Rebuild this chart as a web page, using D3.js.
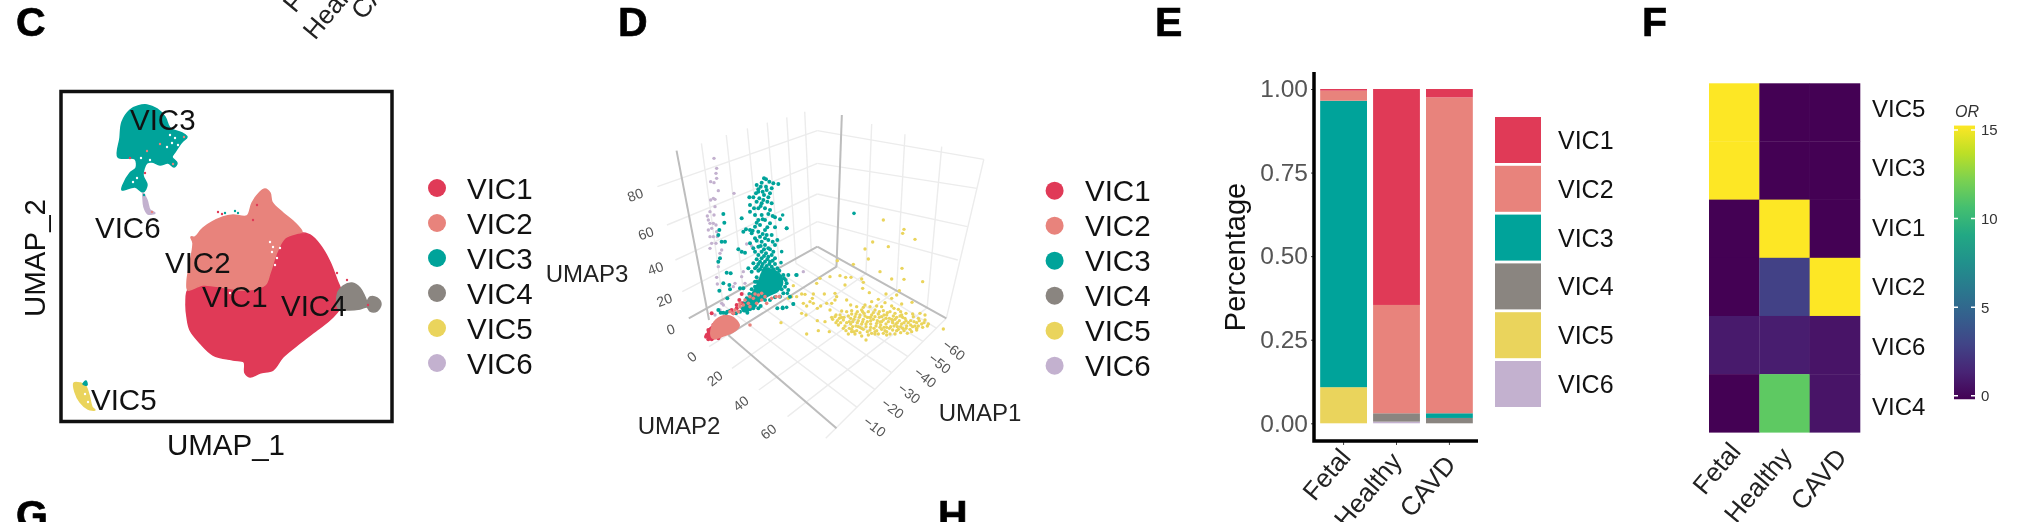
<!DOCTYPE html>
<html><head><meta charset="utf-8">
<script src="https://cdn.jsdelivr.net/npm/d3@7/dist/d3.min.js"></script>
<style>html,body{margin:0;padding:0;background:#fff;overflow:hidden}svg{display:block;filter:blur(0.7px)}text{font-family:"Liberation Sans",Arial,sans-serif}</style>
</head><body><svg id="c" width="2018" height="522"></svg>
<script>
const clusters=["VIC1","VIC2","VIC3","VIC4","VIC5","VIC6"];
const clusterColors=["#E03A57","#E8837C","#00A39A","#8A8580","#EAD45C","#C3B1CF"];
const conditions=["Fetal","Healthy","CAVD"];
// Panel C: cluster outlines (units from the frame's lower left corner)
const outlineVIC1=[[128,133],[143,138],[167,135],[187,133],[205,138],[210,150],[217,171],[225,185],[238,190],[250,188],[260,178],[270,161],[277,143],[282,130],[283,120],[273,106],[257,93],[240,80],[223,66],[213,53],[200,50],[190,46],[185,50],[184,61],[173,63],[153,68],[140,80],[130,93],[127,106],[126,120]];
const outlineVIC2=[[128,133],[127,141],[129,155],[133,180],[131,186],[135,186],[143,195],[163,206],[173,208],[187,207],[192,220],[200,231],[205,234],[210,230],[212,221],[223,210],[235,200],[242,191],[238,190],[225,185],[217,171],[210,150],[205,138],[187,133],[167,135],[143,138]];
const outlineVIC3=[[70,313],[78,317],[87,318],[97,314],[105,306],[110,295],[122,290],[127,286],[122,281],[115,271],[112,266],[117,260],[114,256],[108,260],[100,258],[92,261],[87,260],[83,248],[87,238],[83,231],[75,236],[62,233],[63,238],[70,250],[76,255],[75,264],[58,266],[60,285],[62,301]];
const outlineVIC4=[[278,131],[283,137],[292,140],[300,135],[305,126],[307,122],[310,126],[317,125],[321,119],[317,112],[310,112],[307,116],[300,114],[287,113],[278,115]];
const outlineVIC5=[[14,40],[20,40],[25,38],[29,28],[32,16],[35,13],[28,14],[20,21],[15,31]];
const outlineVIC6=[[83,230],[87,223],[90,213],[95,210],[88,209],[84,216],[83,225]];
const outlineVIC5Tip=[[23,39],[26,42],[27,38]];
const gapsC=[[170,130],[213,176],[217,165],[212,171],[220,175],[215,158],[210,181],[280,146],[285,143],[110,288],[115,285],[118,278],[107,276],[112,280],[81,265],[90,263],[73,241],[77,245],[25,29],[28,21]];
const straysC1=[[158,211],[162,209],[193,203],[197,218],[308,118],[287,143],[277,150],[70,265],[85,250]];
const straysC2=[[200,120],[113,259],[124,286],[100,279],[87,272],[92,211]];
const straysC3=[[165,210],[175,212],[178,210],[84,228]];
const labelsC=[["VIC3",130,130],["VIC6",95,238],["VIC2",165,273],["VIC1",202,307],["VIC4",281,316],["VIC5",91,410]];
// Panel D: projected positions
const ptsVIC3=[[222,115],[238,125],[200,135],[212,140],[228,140],[265,132],[245,145],[250,130],[205,155],[218,155],[230,150],[240,160],[208,175],[220,180],[178,172],[190,172],[200,185],[215,190],[232,185],[245,190],[180,195],[205,205],[225,205],[240,210],[180,215],[195,225],[215,225],[255,232],[270,238],[155,235],[205,240],[225,240],[240,250],[210,255],[195,260],[168,268],[180,270],[205,275],[225,270],[255,262],[290,265],[160,275],[185,280],[210,290],[230,285],[245,285],[195,295],[215,305],[235,300],[262,300],[205,320],[225,315],[255,315],[190,325],[240,328],[145,328],[155,335],[165,338],[215,335],[205,345],[228,340],[250,335],[215,355],[235,350],[255,355],[210,365],[225,365],[240,365],[190,370],[175,385],[200,380],[215,380],[230,378],[245,380],[262,385],[185,395],[205,392],[220,392],[240,392],[260,400],[280,405],[295,405],[320,405],[100,222],[103,248],[88,270],[85,285],[95,305],[105,305],[90,355],[85,365],[110,398],[122,400],[100,430],[118,435],[120,448],[88,452],[112,475],[85,510],[100,518],[108,520],[150,445],[160,445],[290,430],[295,450],[300,470],[310,492],[278,505],[262,505],[190,505],[165,510],[282,415],[275,448],[200,425],[195,440],[185,465],[168,490],
[228,118],[215,128],[205,148],[235,172],[222,165],[198,160],[212,198],[192,205],[235,222],[248,228],[218,238],[200,248],[232,262],[188,272],[218,282],[200,302],[225,295],[248,305],[180,310],[212,318],[235,325],[195,335],[222,328],[245,345],[200,358],[222,348],[232,358],[248,362],[205,372],[218,372],[238,372],[255,372],[195,385],[210,388],[225,385],[235,388],[250,388],[268,392],[272,410],[287,420],[285,440],[280,460],[270,470],[255,472],[240,480],[225,480],[212,498],[195,497],[180,508],[170,500],[158,505],[150,515],[138,520],[172,518],[205,505],[120,512],[92,518],[112,515],[200,412],[195,425],[185,448],[178,462],[170,475],[160,490]];
const denseVIC3=[[215,395],[240,385],[270,400],[280,430],[265,455],[235,470],[205,490],[175,515],[155,512],[170,480],[190,450],[205,420]];
const ptsVIC2=[[205,465],[215,480],[190,475],[175,490],[160,495],[230,490],[268,470],[150,500],[215,460],[200,490],[180,500],[180,555],[145,515],[130,520],[120,515],[135,510],[150,490],[165,480],[180,470],[195,462],[225,470],[245,475],[258,470]];
const denseVIC2=[[70,545],[100,525],[130,530],[150,555],[135,575],[100,590],[70,598],[60,580]];
const denseVIC1=[[50,578],[65,558],[85,575],[95,590],[75,598],[55,598]];
const ptsVIC1=[[155,462],[155,490],[140,505],[130,520],[65,520],[70,555],[55,570],[60,590],[75,590],[85,595],[50,585],[65,598],[55,598],[48,590],[58,578],[125,510],[140,495],[148,480]];
const ptsVIC6=[[72,55],[80,85],[78,100],[80,115],[62,125],[72,128],[85,152],[132,160],[70,175],[62,180],[75,178],[75,200],[60,215],[52,228],[72,225],[55,240],[60,250],[70,250],[78,255],[65,265],[55,270],[80,275],[60,290],[70,290],[82,290],[65,310],[78,310],[60,325],[95,330],[170,312],[185,318],[90,340],[85,380],[80,412],[160,395],[155,410],[82,432],[135,430],[130,440],[165,430],[95,490],[100,495],[75,525],[90,510],[340,395]];
const ptsVIC5=[[310,60],[372,88],[368,100],[405,118],[278,126],[325,140],[255,147],[265,177],[172,182],[220,193],[300,215],[366,205],[335,237],[372,238],[428,245],[245,237],[250,247],[150,230],[180,227],[197,232],[213,232],[120,235],[110,250],[195,255],[248,265],[268,278],[318,282],[350,285],[358,272],[335,295],[396,307],[40,257],[65,282],[75,283],[100,282],[97,295],[133,282],[165,280],[170,290],[35,290],[25,295],[50,290],[90,305],[70,310],[80,318],[100,310],[122,318],[112,325],[140,310],[155,310],[165,300],[200,300],[212,315],[230,320],[150,330],[185,333],[65,340],[78,345],[112,362],[135,365],[115,392],[148,395],[80,402],[3,368],[255,315],[275,305],[295,298],[305,320],[335,318],[365,312],[200,335],[245,330],[265,335],[285,330],[310,332],[330,335],[355,328],[378,340],[420,340],[435,345],[165,350],[180,345],[205,348],[225,350],[240,345],[255,348],[275,345],[295,342],[305,350],[320,345],[340,348],[360,348],[375,355],[400,350],[415,355],[435,360],[158,358],[172,362],[190,360],[208,365],[222,358],[235,362],[250,358],[262,365],[280,358],[292,362],[310,360],[325,365],[345,358],[358,362],[372,368],[392,362],[410,368],[425,372],[445,372],[175,375],[195,378],[212,372],[228,378],[245,372],[258,380],[272,372],[288,378],[302,375],[318,372],[332,380],[348,372],[362,380],[380,378],[398,380],[415,378],[190,385],[215,388],[230,392],[250,388],[270,390],[290,392],[305,388],[320,395],[338,390],[355,388],[372,392],[390,388],[410,390],[490,387],[205,402],[225,402],[245,408],[275,400],[295,402],[320,405],[345,402],[258,420],[185,352],[215,342],[232,368],[268,352],[300,366],[338,368],[352,380],[368,352],[385,368],[405,378],[240,382],[262,395],[282,385],[312,382],[328,355],[248,365],[218,380],[200,368],
[168,345],[178,355],[192,352],[212,355],[218,365],[228,342],[238,352],[252,340],[262,352],[272,362],[285,350],[298,352],[312,345],[318,355],[335,358],[350,352],[365,345],[378,362],[392,375],[402,365],[418,362],[432,368],[442,378],[428,382],[410,385],[395,395],[378,385],[365,372],[352,368],[342,378],[328,385],[315,392],[300,382],[285,395],[272,382],[258,372],[245,385],[235,380],[222,395],[208,385],[198,392],[182,368],[168,368],[155,352],[215,395],[240,398],[265,405],[285,402],[310,400],[330,402],[362,398],[382,400],[250,322],[270,320],[290,318],[315,308],[342,325],[298,335],[280,338],[322,338],[248,335],[232,335],[215,332],[345,340],[362,335],[398,342],[272,352],[290,370],[305,365],[320,382],[338,362],[350,392],[368,385]];
const ptsVIC3Far=[[222,40],[8,45],[20,85],[5,155],[3,188],[48,225],[40,312],[20,322],[8,322],[22,280]];
const umap1Ticks=[-10,-20,-30,-40,-50,-60];
const umap2Ticks=[0,20,40,60];
const umap3Ticks=[0,20,40,60,80];
// Panel E: share of each cluster per condition
const shareVIC1=[0.005,0.646,0.025];
const shareVIC2=[0.030,0.324,0.945];
const shareVIC3=[0.857,0.000,0.014];
const shareVIC4=[0.000,0.025,0.016];
const shareVIC5=[0.108,0.000,0.000];
const shareVIC6=[0.000,0.005,0.000];
const shareTicks=[0,0.25,0.5,0.75,1];
// Panel F: odds ratio
const heatRows=["VIC5","VIC3","VIC1","VIC2","VIC6","VIC4"];
const orFetal=[15,15,0,0,1.0,0];
const orHealthy=[0,0,15,2.9,1.2,11.3];
const orCAVD=[0,0,0,15,0.8,0.8];
const orTicks=[0,5,10,15];
const panelLetters=[["C",16,36],["D",618,36],["E",1155,36],["F",1642,36],["G",16,529],["H",938,529]];

const svg=d3.select("#c");
const colorOf=d3.scaleOrdinal(clusters,clusterColors);
panelLetters.forEach(([t,x,y])=>svg.append("text").attr("x",x).attr("y",y).attr("font-size",41).attr("font-weight",700).attr("fill","#000").attr("stroke","#000").attr("stroke-width",0.7).text(t));
// cut-off tick labels of the panel above
[["Fetal",295,14],["Healthy",315,41],["CAVD",363,21]].forEach(([t,x,y])=>svg.append("text").attr("transform",`translate(${x},${y}) rotate(-50)`).attr("font-size",26).attr("fill","#222").text(t));

function legendDots(cx,tx,y0,dy,fs){
  clusters.forEach((c,i)=>{
    const g=svg.append("g");
    g.append("circle").attr("cx",cx).attr("cy",y0+i*dy).attr("r",9).attr("fill",colorOf(c));
    g.append("text").attr("x",tx).attr("y",y0+i*dy).attr("dy","0.36em").attr("font-size",fs).attr("fill","#111").text(c);
  });
}
// ---------- C
{
  const x=d3.scaleLinear().domain([0,333]).range([60,393]);
  const y=d3.scaleLinear().domain([0,333]).range([423,90]);
  const area=d3.line().x(d=>x(d[0])).y(d=>y(d[1])).curve(d3.curveCatmullRomClosed.alpha(0.5));
  const g=svg.append("g");
  [[outlineVIC1,0],[outlineVIC2,1],[outlineVIC3,2],[outlineVIC4,3],[outlineVIC5,4],[outlineVIC6,5],[outlineVIC5Tip,2]].forEach(([o,i])=>{
    g.append("path").attr("d",area(o)).attr("fill",clusterColors[i]).attr("stroke",clusterColors[i]).attr("stroke-width",1.5);
  });
  [[gapsC,"#fff"],[straysC1,clusterColors[0]],[straysC2,clusterColors[1]],[straysC3,clusterColors[2]]].forEach(([p,c])=>{
    g.selectAll(null).data(p).join("circle").attr("cx",d=>x(d[0])).attr("cy",d=>y(d[1])).attr("r",1.2).attr("fill",c);
  });
  svg.append("rect").attr("x",61).attr("y",91.5).attr("width",331).attr("height",330).attr("fill","none").attr("stroke","#111").attr("stroke-width",3.5);
  labelsC.forEach(([t,px,py])=>svg.append("text").attr("x",px).attr("y",py).attr("font-size",29.5).attr("fill","#111").text(t));
  svg.append("text").attr("x",226).attr("y",455).attr("text-anchor","middle").attr("font-size",29.5).attr("fill","#111").text("UMAP_1");
  svg.append("text").attr("transform","translate(45,258) rotate(-90)").attr("text-anchor","middle").attr("font-size",29.5).attr("fill","#111").text("UMAP_2");
  legendDots(437,467,188,35,29.5);
}
// ---------- D
{
  const gx=d3.scaleLinear().domain([0,1568]).range([600,1200]), gy=d3.scaleLinear().domain([0,1566]).range([0,522]);
  const nx=d3.scaleLinear().domain([0,420]).range([690,830]), ny=d3.scaleLinear().domain([0,600]).range([140,340]);
  const fx=d3.scaleLinear().domain([0,510]).range([780,950]), fy=d3.scaleLinear().domain([0,450]).range([200,350]);
  const edge=(ticks,pts)=>{const a=d3.scaleLinear().domain(ticks).range(pts.map(p=>p[0])),b=d3.scaleLinear().domain(ticks).range(pts.map(p=>p[1]));return t=>[a(t),b(t)];};
  const seg=(p,q,c,w)=>svg.append("line").attr("x1",gx(p[0])).attr("y1",gy(p[1])).attr("x2",gx(q[0])).attr("y2",gy(q[1])).attr("stroke",c).attr("stroke-width",w);
  const LIGHT="#ececec",DARK="#bdbdbd";
  const zBack=edge(umap3Ticks,[[568,740],[568,665],[568,582],[568,490],[568,392]]);
  const zLeft=edge(umap3Ticks,[[232,955],[215,875],[197,780],[175,675],[150,560]]);
  const zRight=edge(umap3Ticks,[[905,955],[935,780],[960,680],[985,565],[1003,478]]);
  umap3Ticks.forEach(t=>{if(t){seg(zBack(t),zLeft(t),LIGHT,1.4);seg(zBack(t),zRight(t),LIGHT,1.4);}});
  const wallTop=edge(umap1Ticks,[[265,430],[330,405],[385,385],[437,368],[488,352],[535,335]]);
  const wallBot=edge(umap1Ticks,[[322,915],[375,880],[425,848],[470,818],[512,790],[552,752]]);
  const floorEnd=edge(umap1Ticks,[[672,1222],[718,1168],[762,1118],[805,1070],[845,1025],[880,985]]);
  umap1Ticks.forEach(t=>{seg(wallTop(t),wallBot(t),LIGHT,1.4);seg(wallBot(t),floorEnd(t),LIGHT,1.4);});
  const u2near=edge([0,20,40,60,80],[[285,1040],[345,1105],[415,1170],[490,1250],[590,1315]]);
  const u2far=edge([0,20,40,60,80],[[618,800],[695,821],[775,872],[855,923],[905,955]]);
  const u2top=edge([20,40,60],[[710,372],[797,403],[893,440]]);
  [0,20,40,60,80].forEach(t=>seg(u2near(t),u2far(t),LIGHT,1.4));
  [20,40,60].forEach(t=>seg(u2top(t),u2far(t),LIGHT,1.4));
  seg([1003,478],[905,955],LIGHT,1.4);
  seg([568,740],[232,955],DARK,2);seg([568,740],[905,955],DARK,2);
  seg([632,345],[618,800],DARK,2);seg([200,452],[285,960],DARK,2);
  seg([618,800],[335,1005],DARK,2);seg([335,1005],[618,1285],DARK,2);
  const layer=svg.append("g");
  const dots=(data,X,Y,c,r)=>layer.selectAll(null).data(data).join("circle").attr("cx",d=>X(d[0])).attr("cy",d=>Y(d[1])).attr("r",r).attr("fill",c);
  dots(ptsVIC5,fx,fy,colorOf("VIC5"),1.7);
  dots(ptsVIC6,nx,ny,colorOf("VIC6"),1.7);
  dots(ptsVIC3,nx,ny,colorOf("VIC3"),2);
  dots(ptsVIC3Far,fx,fy,colorOf("VIC3"),1.8);
  const poly=d3.line().x(d=>nx(d[0])).y(d=>ny(d[1])).curve(d3.curveCardinalClosed);
  layer.append("path").attr("d",poly(denseVIC3)).attr("fill",colorOf("VIC3"));
  dots(ptsVIC1,nx,ny,colorOf("VIC1"),2);
  dots(ptsVIC2,nx,ny,colorOf("VIC2"),1.8);
  layer.append("path").attr("d",poly(denseVIC1)).attr("fill",colorOf("VIC1"));
  layer.append("path").attr("d",poly(denseVIC2)).attr("fill",colorOf("VIC2"));
  const tick=(t,px,py,rot)=>svg.append("text").attr("transform",`translate(${gx(px)},${gy(py)}) rotate(${rot})`).attr("text-anchor","middle").attr("dy","0.35em").attr("font-size",14).attr("fill","#555").text(t);
  umap3Ticks.forEach((t,i)=>tick(t,[185,168,145,120,92][i],[988,900,805,700,585][i],-20));
  umap2Ticks.forEach((t,i)=>tick(t,[240,300,368,440][i],[1070,1135,1210,1295][i],-38));
  umap1Ticks.forEach((t,i)=>tick("\u2212"+Math.abs(t),[718,765,808,850,888,925][i],[1280,1225,1180,1132,1090,1050][i],38));
  [["UMAP3",587,273],["UMAP2",679,425],["UMAP1",980,412]].forEach(([t,px,py])=>svg.append("text").attr("x",px).attr("y",py).attr("dy","0.36em").attr("text-anchor","middle").attr("font-size",24).attr("fill","#222").text(t));
  legendDots(1054.6,1085,190.7,35,29.5);
}
// ---------- E
{
  const shares={VIC1:shareVIC1,VIC2:shareVIC2,VIC3:shareVIC3,VIC4:shareVIC4,VIC5:shareVIC5,VIC6:shareVIC6};
  const rows=conditions.map((c,i)=>{const o={condition:c};clusters.forEach(k=>o[k]=shares[k][i]);return o;});
  const x=d3.scaleBand().domain(conditions).range([1317,1476]).paddingInner(0.115).paddingOuter(0.06);
  const y=d3.scaleLinear().domain([0,1]).range([423.3,89]);
  const stack=d3.stack().keys([...clusters].reverse())(rows);
  const g=svg.append("g");
  stack.forEach(s=>g.selectAll(null).data(s).join("rect").attr("x",d=>x(d.data.condition)).attr("width",x.bandwidth()).attr("y",d=>y(d[1])).attr("height",d=>y(d[0])-y(d[1])).attr("fill",colorOf(s.key)));
  const ya=svg.append("g").attr("transform","translate(1314,0)").call(d3.axisLeft(y).tickValues(shareTicks).tickFormat(d3.format(".2f")).tickSize(3).tickPadding(3));
  ya.select(".domain").remove();
  ya.selectAll("text").attr("font-size",24.5).attr("fill","#555").attr("font-family","Liberation Sans");
  ya.selectAll("line").attr("stroke","#444");
  const xa=svg.append("g").attr("transform","translate(0,441)").call(d3.axisBottom(x).tickSize(4).tickFormat(""));
  xa.select(".domain").remove();xa.selectAll("line").attr("stroke","#444");
  svg.append("path").attr("d","M1314,72V441H1478").attr("fill","none").attr("stroke","#000").attr("stroke-width",3.5);
  conditions.forEach((c,i)=>svg.append("text").attr("transform",`translate(${[1352,1403,1457][i]},${[458,462,465][i]}) rotate(-50)`).attr("text-anchor","end").attr("font-size",26).attr("fill","#222").text(c));
  svg.append("text").attr("transform","translate(1245,257) rotate(-90)").attr("text-anchor","middle").attr("font-size",29).attr("fill","#111").text("Percentage");
  clusters.forEach((c,i)=>{
    const top=117+i*48.8;
    svg.append("rect").attr("x",1495).attr("y",top).attr("width",46).attr("height",46).attr("fill",colorOf(c));
    svg.append("text").attr("x",1558).attr("y",top+23).attr("dy","0.36em").attr("font-size",25).attr("fill","#111").text(c);
  });
}
// ---------- F
{
  const x=d3.scaleBand().domain(conditions).range([1709,1860]);
  const y=d3.scaleBand().domain(heatRows).range([83.3,432.3]);
  const labelY=d3.scalePoint().domain(heatRows).range([108,406]);
  const color=d3.scaleSequential(d3.interpolateViridis).domain([0,15]);
  const byCond={Fetal:orFetal,Healthy:orHealthy,CAVD:orCAVD};
  conditions.forEach(c=>heatRows.forEach((r,i)=>svg.append("rect").attr("x",x(c)).attr("y",y(r)).attr("width",x.bandwidth()+0.3).attr("height",y.bandwidth()+0.3).attr("fill",color(byCond[c][i]))));
  heatRows.forEach(r=>svg.append("text").attr("x",1872).attr("y",labelY(r)).attr("dy","0.36em").attr("font-size",24).attr("fill","#111").text(r));
  conditions.forEach((c,i)=>svg.append("text").attr("transform",`translate(${[1742,1793,1848][i]},${[452,457,458][i]}) rotate(-50)`).attr("text-anchor","end").attr("font-size",26).attr("fill","#222").text(c));
  const cb=d3.scaleLinear().domain([0,15]).range([395.7,130]);
  const grad=svg.append("defs").append("linearGradient").attr("id","vir").attr("x1",0).attr("x2",0).attr("y1",1).attr("y2",0);
  d3.range(0,1.001,0.1).forEach(t=>grad.append("stop").attr("offset",t).attr("stop-color",d3.interpolateViridis(t)));
  svg.append("rect").attr("x",1954).attr("y",cb(15.25)).attr("width",21).attr("height",cb(-0.2)-cb(15.25)).attr("fill","url(#vir)");
  orTicks.forEach(t=>{
    svg.append("path").attr("d",`M1954,${cb(t)}h4M1971,${cb(t)}h4`).attr("stroke","#fff").attr("stroke-width",1.5);
    svg.append("text").attr("x",1981).attr("y",cb(t)).attr("dy","0.36em").attr("font-size",15).attr("fill","#333").text(t);
  });
  svg.append("text").attr("x",1955).attr("y",117).attr("font-size",16).attr("font-style","italic").attr("fill","#333").text("OR");
}
</script></body></html>
